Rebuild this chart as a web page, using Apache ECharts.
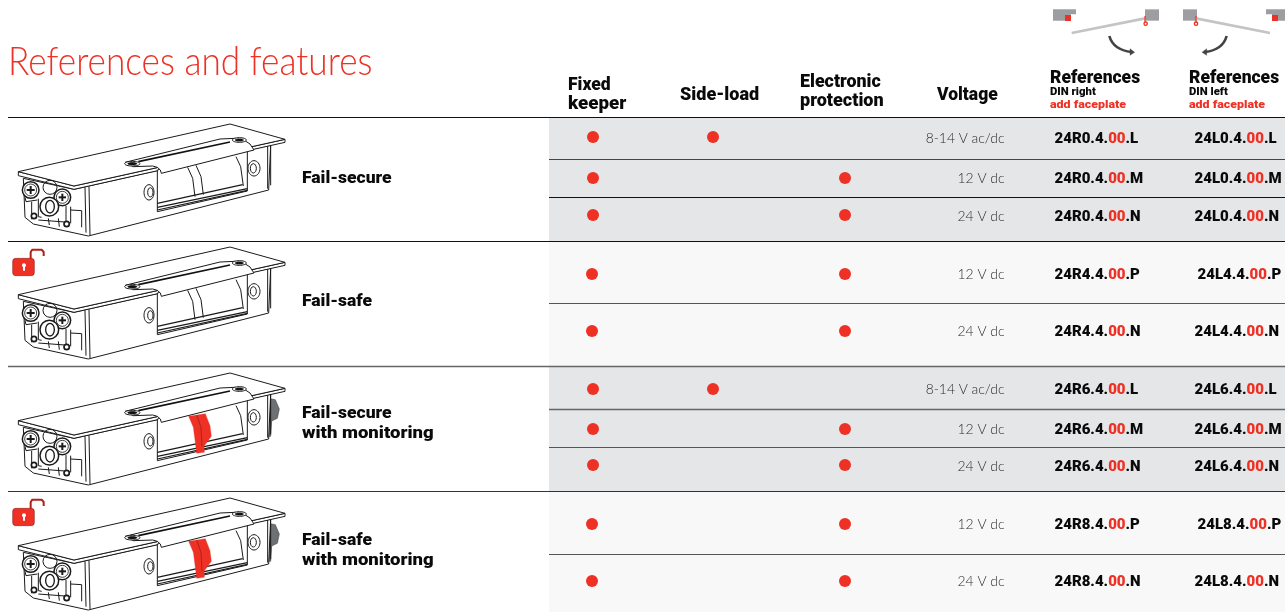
<!DOCTYPE html>
<html><head><meta charset="utf-8">
<style>html,body{margin:0;padding:0;background:#fff}#c{width:1285px;height:612px}</style>
<script src="https://cdn.jsdelivr.net/npm/echarts@6/dist/echarts.min.js"></script>
</head><body><div id="c"></div>
<script>
// ---- data ----
const voltages = ['8-14 V ac/dc','12 V dc','24 V dc','12 V dc','24 V dc','8-14 V ac/dc','12 V dc','24 V dc','12 V dc','24 V dc'];
const refsRight = ['24R0.4.00.L','24R0.4.00.M','24R0.4.00.N','24R4.4.00.P','24R4.4.00.N','24R6.4.00.L','24R6.4.00.M','24R6.4.00.N','24R8.4.00.P','24R8.4.00.N'];
const refsLeft = ['24L0.4.00.L','24L0.4.00.M','24L0.4.00.N','24L4.4.00.P','24L4.4.00.N','24L6.4.00.L','24L6.4.00.M','24L6.4.00.N','24L8.4.00.P','24L8.4.00.N'];
const fixedKeeper = [1,1,1,1,1,1,1,1,1,1];
const sideLoad = [1,0,0,0,0,1,0,0,0,0];
const electronicProtection = [0,1,1,1,1,0,1,1,1,1];
const productNames = [['Fail-secure'],['Fail-safe'],['Fail-secure','with monitoring'],['Fail-safe','with monitoring']];
// ---- table layout (axis scale positions) ----
const rowDotY = [137,178,215,274,331,389,429,465,524,581];
const rowTextY = [139,179,217,275,332,390,430,467,525,582];
const dotCol = {fixed:593, side:713, elec:845};
const voltCol = 1005, refRCol = 1054, refLCol = 1194;
const RED = '#ee3124';
const BOLD = 'Roboto', W = 900;

function rows(flags, x){ return flags.map((f,i)=>f?[(i===3||i===4||i===8||i===9)&&x<700?x-1:x, rowDotY[i]]:null).filter(Boolean); }
function refFmt(s){ const a=s.split('00'); return '{b|'+a[0]+'}{r|00}{b|'+a[1]+'}'; }
const refRich = {b:{fontFamily:BOLD,fontWeight:W,fontSize:15,color:'#0a0a0a'},r:{fontFamily:BOLD,fontWeight:W,fontSize:15,color:RED}};

const g = [];
// bands
[[118,241,'#e5e6e8'],[241,366,'#f8f8f8'],[366,491,'#e5e6e8'],[491,612,'#f8f8f8']].forEach(b=>{
  g.push({type:'rect',shape:{x:549,y:b[0],width:736,height:b[1]-b[0]},style:{fill:b[2]}});
});
// rules
[[117,8,'#111',1.2],[159,549,'#444',1.2],[197,549,'#111',1.2],[241,8,'#111',1.2],[303,549,'#555',1.2],[366,8,'#666',1.5],[409,549,'#666',1.3],[447,549,'#555',1.2],[491,8,'#333',1.2],[554,549,'#555',1.2]].forEach(r=>{
  g.push({type:'line',shape:{x1:r[1],y1:r[0]+.5,x2:1285,y2:r[0]+.5},style:{stroke:r[2],lineWidth:r[3]}});
});
function txt(t,x,y,size,opt,sx){ const e={type:'text',x:x,y:y,style:Object.assign({text:t,fontFamily:BOLD,fontWeight:W,fontSize:size,fill:'#0a0a0a',textVerticalAlign:'middle',textBaseline:'middle',textAlign:'left'},opt||{})}; if(sx){e.scaleX=sx;} g.push(e); }
txt('References and features',8,62,40,{fill:RED,fontWeight:300,fontFamily:'Lato'},0.88);
txt('Fixed',568,85.5,17.5); txt('keeper',568,104.5,17.5,null,1.07);
txt('Side-load',680,95.5,17.5,null,1.03);
txt('Electronic',800,83,17.5,null,1.02); txt('protection',800,102,17.5,null,1.03);
txt('Voltage',937,95.5,17.5);
[[1050,'DIN right'],[1189,'DIN left']].forEach(h=>{
  txt('References',h[0],78.5,17.5); txt(h[1],h[0],92.5,10.5,null,1.08); txt('add faceplate',h[0],105,11.5,{fill:RED},1.08);
});
// product names
[[179],[302],[414,434],[541,561]].forEach((ys,i)=>ys.forEach((y,j)=>txt(productNames[i][j],302,y,17,null,j===1?1.09:1.03)));

// device drawing (units: 3 per px)
function ln(pts,lw,col){ return {type:'polyline',shape:{points:pts},style:{stroke:col||'#1a1a1a',lineWidth:lw||3,fill:'none',lineJoin:'round'}}; }
function pg(pts,fill,stroke,lw){ return {type:'polygon',shape:{points:pts},style:{fill:fill||'#fff',stroke:stroke||'#1a1a1a',lineWidth:lw==null?3:lw,lineJoin:'round'}}; }
function circ(x,y,r,fill,lw){ return {type:'circle',shape:{cx:x,cy:y,r:r},style:{fill:fill||'none',stroke:'#1a1a1a',lineWidth:lw||3}}; }
function ell(x,y,a,b,fill,lw){ return {type:'ellipse',shape:{cx:x,cy:y,rx:a,ry:b},style:{fill:fill||'none',stroke:'#1a1a1a',lineWidth:lw||3}}; }
function bez(x1,y1,cx,cy,x2,y2,lw,col){ return {type:'bezierCurve',shape:{x1:x1,y1:y1,cpx1:cx,cpy1:cy,x2:x2,y2:y2},style:{stroke:col,lineWidth:lw,fill:'none'}}; }
function device(dy,mon){
  const c=[];
  if(mon) c.push(pg([[805,118],[826,122],[838,150],[832,178],[815,186],[812,232],[803,232]],'#6f7072','#333',1.5));
  // body
  c.push(pg([[70,205],[75,322],[100,342],[265,378],[806,240],[812,105],[222,238]]));
  // plate
  c.push(pg([[55,185],[55,197],[222,238],[855,97],[855,88],[222,228]]));
  c.push(pg([[55,185],[690,42],[855,88],[222,228]]));
  // end channels
  c.push(ln([[255,232],[258,368]]), ln([[267,230],[270,375]]));
  c.push(ln([[803,108],[803,236]]), ln([[812,106],[812,226]]));
  // end-face
  c.push(circ(150,232,21), circ(92,240,25,'#fff',4.5), circ(92,240,18,'#fff',2.5));
  c.push(circ(187,262,25,'#fff',4.5), circ(187,262,18,'#fff',2.5));
  c.push(ln([[80,240],[104,240]],6), ln([[92,228],[92,252]],6), ln([[176,262],[198,262]],6), ln([[187,251],[187,273]],6));
  c.push(ln([[95,275],[95,328]]), ln([[115,266],[115,320],[125,322]]), ln([[75,262],[78,275],[112,270]]));
  c.push(ln([[198,288],[198,335]]), ln([[212,290],[212,340]]), ln([[212,300],[245,302],[245,352]]));
  c.push(ln([[115,330],[195,336]]), ln([[145,325],[148,345]]), ln([[175,325],[178,350]]));
  c.push(circ(148,290,28,'#fff',4.5), ell(150,290,13,19,'#fff',4));
  c.push(circ(102,318,8,'#fff',5), circ(200,342,8,'#fff',5));
  // holes
  c.push(ell(447,247,15,23,'#fff'), ell(451,247,8,14,'#fff'));
  c.push(ell(762,175,18,23,'#fff'), ell(760,175,9,14,'#fff'));
  // keeper opening
  c.push(pg([[472,195],[472,305],[742,243],[742,115],[472,180]]));
  c.push(ln([[472,280],[728,224]],4), ln([[472,292],[742,236]],3.5), ln([[472,300],[742,241]],3.5));
  c.push(ln([[708,140],[722,170],[730,228]]));
  if(mon){
    c.push(pg([[566,172],[616,164],[630,200],[634,232],[612,262],[613,280],[590,283],[587,258],[580,205]],RED,RED,1));
    c.push(ln([[590,168],[603,205],[606,262]],2,'#8a1d14'));
  } else {
    c.push(ln([[563,172],[578,205],[585,260]]), ln([[588,166],[603,200],[610,254]]));
  }
  // cover
  c.push(pg([[375,157],[660,87],[705,85],[730,89],[750,102],[762,120],[484,190],[481,180],[472,172],[458,168],[400,170]]));
  c.push(ln([[415,155],[690,96]],5,'#111'));
  c.push(ell(397,161,23,7,'#fff',3), ell(397,161,14,4,'#111',1));
  c.push(ell(718,90,21,7,'#fff',3), ell(718,90,13,4,'#111',1));
  return {type:'group',x:0,y:110+dy,scaleX:1/3,scaleY:1/3,children:c};
}
[0,123,249,374].forEach((d,i)=>g.push(device(d,i>=2)));

// lock
function lock(y){
  return {type:'group',x:0,y:y,scaleX:1/3,scaleY:1/3,children:[
    ln([[92,58],[92,36],[97,29],[125,29],[131,36],[131,48]],6,'#b0201a'),
    {type:'rect',shape:{x:38,y:55,width:65,height:52,r:9},style:{fill:RED,stroke:'#7a1510',lineWidth:1.5}},
    {type:'circle',shape:{cx:72,cy:76,r:6},style:{fill:'#fff'}},
    {type:'rect',shape:{x:69,y:76,width:6,height:16},style:{fill:'#fff'}}
  ]};
}
g.push(lock(240), lock(490));

// DIN icons
function icons(){
  const G='#9d9ea2';
  return {type:'group',x:1030,y:0,scaleX:1/3,scaleY:1/3,children:[
    pg([[69,28],[138,28],[138,43],[122,43],[122,62],[69,62]],G,G,0),
    {type:'rect',shape:{x:105,y:45,width:18,height:18},style:{fill:RED}},
    {type:'rect',shape:{x:345,y:28,width:42,height:34},style:{fill:G}},
    ln([[125,99],[345,55]],8,'#c3c4c6'),
    ln([[345,48],[345,70]],3.5,RED), {type:'circle',shape:{cx:347,cy:71,r:5},style:{fill:'#fff',stroke:RED,lineWidth:4}},
    bez(238,108,250,150,305,156,8,'#444'),
    pg([[300,146],[314,157],[300,166]],'#444','#444',1),
    {type:'rect',shape:{x:459,y:28,width:42,height:34},style:{fill:G}},
    pg([[708,28],[765,28],[765,62],[726,62],[726,43],[708,43]],G,G,0),
    {type:'rect',shape:{x:726,y:45,width:18,height:18},style:{fill:RED}},
    ln([[498,55],[720,99]],8,'#c3c4c6'),
    ln([[498,48],[498,70]],3.5,RED), {type:'circle',shape:{cx:498,cy:71,r:5},style:{fill:'#fff',stroke:RED,lineWidth:4}},
    bez(590,108,578,150,525,156,8,'#444'),
    pg([[530,146],[516,157],[530,166]],'#444','#444',1)
  ]};
}
g.push(icons());

function dotSeries(name,flags,x){ return {name:name,type:'scatter',symbol:'circle',symbolSize:12,itemStyle:{color:RED,opacity:1},data:rows(flags,x),silent:true}; }
function textSeries(name,list,x,pos,label){
  return {name:name,type:'scatter',symbolSize:1,itemStyle:{color:'transparent',opacity:1},silent:true,
    data:list.map((v,i)=>{
      let px=x; if(name==='L' && (i===3||i===8)) px=x+3;
      return {value:[px,rowTextY[i]],v:v};
    }),
    label:{show:true,position:pos,distance:0,formatter:p=>label(p.data.v)}};
}
const chart = echarts.init(document.getElementById('c'),null,{renderer:'canvas'});
const vs = textSeries('V',voltages,voltCol,'left',v=>v);
vs.label.fontFamily='Lato'; vs.label.fontWeight=300; vs.label.fontSize=13.9; vs.label.color='#2e2e2e';
const rs = textSeries('R',refsRight,refRCol,'right',refFmt); rs.label.rich=refRich;
const ls = textSeries('L',refsLeft,refLCol,'right',refFmt); ls.label.rich=refRich;
chart.setOption({
  animation:false,
  grid:{left:0,right:0,top:0,bottom:0},
  xAxis:{type:'value',min:0,max:1285,show:false},
  yAxis:{type:'value',min:0,max:612,inverse:true,show:false},
  graphic:{elements:g},
  series:[dotSeries('Fixed keeper',fixedKeeper,dotCol.fixed),dotSeries('Side-load',sideLoad,dotCol.side),dotSeries('Electronic protection',electronicProtection,dotCol.elec),vs,rs,ls]
});
</script></body></html>
